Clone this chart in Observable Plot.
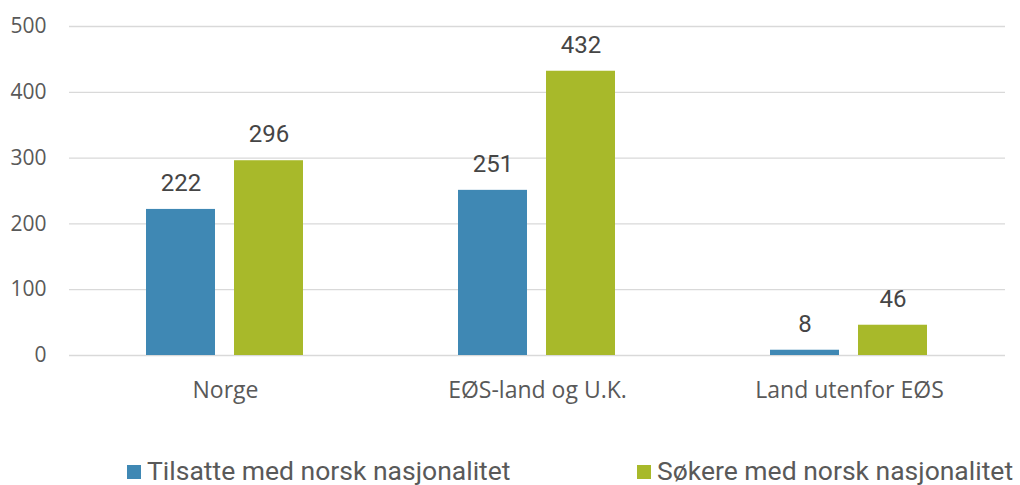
<!DOCTYPE html>
<html>
<head>
<meta charset="utf-8">
<script src="https://cdn.jsdelivr.net/npm/d3@7"></script>
<script src="https://cdn.jsdelivr.net/npm/@observablehq/plot@0.6"></script>
<style>
  html, body { margin: 0; padding: 0; background: #fff; }
  #wrap { position: relative; width: 1020px; height: 485px; overflow: hidden; }
  .leg { position: absolute; top: 456px; height: 30px; line-height: 30px; display: flex; align-items: center; font-family: Roboto, sans-serif; font-size: 26.5px; color: #595959; white-space: nowrap; }
  .sw { width: 14px; height: 14px; margin-right: 6px; margin-top: 1px; }
</style>
</head>
<body>
<div id="wrap">
  <div id="chart"></div>
</div>
<script>
const categories = ["Norge", "EØS-land og U.K.", "Land utenfor EØS"];
const series = ["Tilsatte med norsk nasjonalitet", "Søkere med norsk nasjonalitet"];
const tilsatte = [222, 251, 8];
const sokere = [296, 432, 46];
const colors = ["#3f88b4", "#a8b92a"];
const yTicks = [0, 100, 200, 300, 400, 500];

const data = [];
categories.forEach((c, i) => {
  data.push({cat: c, series: series[0], value: tilsatte[i]});
  data.push({cat: c, series: series[1], value: sokere[i]});
});

const chart = Plot.plot({
  width: 1020,
  height: 420,
  marginLeft: 69,
  marginRight: 15,
  marginTop: 26,
  marginBottom: 65,
  fx: {domain: categories, paddingInner: 0, paddingOuter: 0, label: null, axis: null},
  x: {domain: series, paddingInner: 0.2135, paddingOuter: 0.86, axis: null},
  y: {domain: [0, 500], label: null, axis: null},
  color: {domain: series, range: colors},
  marks: [
    Plot.gridY(yTicks, {stroke: "#d9d9d9", strokeOpacity: 1, strokeWidth: 1.3}),
    Plot.axisY(yTicks, {tickSize: 0, tickPadding: 23, fontSize: 21, fontFamily: "'Open Sans', sans-serif", fill: "#595959", label: null}),
    Plot.axisFx({anchor: "bottom", tickSize: 0, tickPadding: 26, fontSize: 23, fontFamily: "'Open Sans', sans-serif", fill: "#595959", label: null}),
    Plot.barY(data, {fx: "cat", x: "series", y: "value", fill: "series"}),
    Plot.text(data, {fx: "cat", x: "series", y: "value", text: d => String(d.value), dy: -26, lineAnchor: "middle", fontSize: 24, fontWeight: 400, fontFamily: "Roboto, sans-serif", fill: "#454545"})
  ]
});
document.getElementById("chart").appendChild(chart);

const wrap = document.getElementById("wrap");
const legLeft = [127, 637];
series.forEach((s, i) => {
  const d = document.createElement("div");
  d.className = "leg";
  d.style.left = legLeft[i] + "px";
  const sw = document.createElement("span");
  sw.className = "sw";
  sw.style.background = colors[i];
  const t = document.createElement("span");
  t.textContent = s;
  d.appendChild(sw);
  d.appendChild(t);
  wrap.appendChild(d);
});
</script>
</body>
</html>
